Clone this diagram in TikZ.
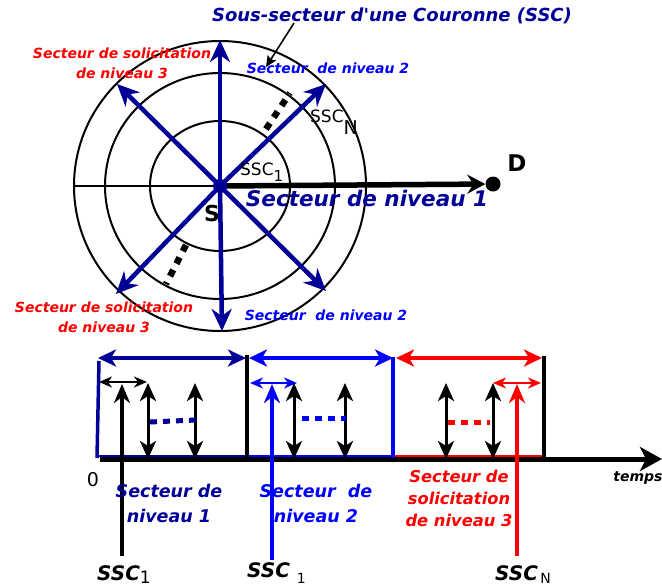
\documentclass[tikz,border=0pt]{standalone}
\usepackage{fontspec}
\setmainfont{DejaVu Sans}[Ligatures=TeXOff]
\usetikzlibrary{arrows.meta}
\definecolor{navy}{RGB}{0,0,150}
\definecolor{bl}{RGB}{0,0,255}
\definecolor{rd}{RGB}{255,0,0}
\tikzset{
  rad/.style={navy,line width=4.5pt,-{Stealth[length=22pt,width=20pt,inset=7pt]}},
  bigdbl/.style={line width=3.5pt,{Stealth[length=18pt,width=17pt,inset=5pt]}-{Stealth[length=18pt,width=17pt,inset=5pt]}},
  smalldbl/.style={line width=2.4pt,{Stealth[length=13pt,width=11pt,inset=4pt]}-{Stealth[length=13pt,width=11pt,inset=4pt]}},
  vdbl/.style={black,line width=3pt,{Stealth[length=18pt,width=16pt,inset=5pt]}-{Stealth[length=18pt,width=16pt,inset=5pt]}},
  uparr/.style={line width=3.5pt,-{Stealth[length=19pt,width=16pt,inset=6pt]}},
  dots/.style={line width=5pt,dash pattern=on 7pt off 6pt},
  pdots/.style={line width=6.5pt,dash pattern=on 7pt off 7pt},
  lbl/.style 2 args={font=\bfseries\itshape\fontsize{#1}{#2}\selectfont,align=center,inner sep=0pt},
  ring/.style={line width=2pt}
}
\begin{document}
\begin{tikzpicture}[x=1pt,y=-1pt]
\useasboundingbox (0,0) rectangle (662,587);
% ---------- polar part ----------
\coordinate (C) at (220,186);
\draw[ring] (C) ellipse [x radius=70pt,y radius=65pt];
\draw[ring] (C) ellipse [x radius=115pt,y radius=113pt];
\draw[ring] (C) ellipse [x radius=146pt,y radius=145pt];
\coordinate (L) at (74,186);
\draw[line width=2pt] (L) -- (C);
\node[circle,fill=black,inner sep=0pt,minimum size=15pt] (D) at (493,184) {};
\draw[line width=5.5pt,-{Stealth[length=18pt,width=19pt,inset=6pt]}] (C) -- (D);
\coordinate (a1) at (220,40);
\coordinate (a2) at (117,84);
\coordinate (a3) at (326,84);
\coordinate (a4) at (116,294);
\coordinate (a5) at (222,331);
\coordinate (a6) at (326,291);
\foreach \t in {a1,a2,a3,a4,a5,a6} \draw[rad] (C) -- (\t);
\node[circle,fill=navy,inner sep=0pt,minimum size=14pt] (S) at (C) {};
\coordinate (d1a) at (266,129); \coordinate (d1b) at (290,93);
\coordinate (d2a) at (186,245); \coordinate (d2b) at (166,284);
\draw[pdots] (d1a) -- (d1b);
\draw[pdots] (d2a) -- (d2b);
\node[font=\bfseries\fontsize{23}{26}\selectfont] (Dl) at (517,163) {D};
\node[font=\bfseries\fontsize{22}{26}\selectfont] (Sl) at (212,213) {S};
\node[font=\fontsize{17}{20}\selectfont,inner sep=0pt,anchor=base west] (ssc1) at (240,175) {SSC\raisebox{-6pt}{\fontsize{15}{15}\selectfont 1}};
\node[font=\fontsize{17}{20}\selectfont,inner sep=0pt,anchor=base west] (sscN) at (310,122) {SSC\raisebox{-12pt}{\fontsize{19}{19}\selectfont N}};
\node[lbl={18}{22},navy] (ssc) at (392,16) {Sous-secteur d'une Couronne (SSC)};
\coordinate (sscA) at (294,23);
\coordinate (sscB) at (266,67);
\draw[line width=1.6pt,-{Stealth[length=11pt,width=10pt,inset=2pt]}] (sscA) -- (sscB);
\node[lbl={14}{20},rd] (n3a) at (122,63) {Secteur de solicitation\\de niveau 3};
\node[lbl={14}{16},bl] (n2a) at (328,68) {Secteur\ \ de niveau 2};
\node[lbl={21.5}{24},navy] (n1) at (367,198) {Secteur de niveau 1};
\node[lbl={14}{20},rd] (n3b) at (104,317) {Secteur de solicitation\\de niveau 3};
\node[lbl={14}{16},bl] (n2b) at (326,315) {Secteur\ \ de niveau 2};
% ---------- time line ----------
\coordinate (t0) at (100,459);
\coordinate (tend) at (662,459);
\draw[navy,line width=2.5pt] (98,456) -- (247,456);
\draw[bl,line width=2.5pt] (248,456) -- (393,456);
\draw[rd,line width=2.5pt] (395,456) -- (544,456);
\draw[line width=5pt,-{Stealth[length=22pt,width=24pt,inset=6pt]}] (t0) -- (tend);
\node[lbl={14}{16}] (temps) at (638,478) {temps};
\node[font=\fontsize{19}{22}\selectfont] (zero) at (93,480) {0};
% bars
\draw[navy,line width=3.5pt] (99,361) -- (97,458);
\draw[line width=3.5pt] (247,355) -- (247,461);
\draw[bl,line width=3.5pt] (393,357) -- (393,458);
\draw[line width=3.5pt] (544,356) -- (544,461);
% big double arrows
\coordinate (b1) at (98,358); \coordinate (b2) at (246,358);
\coordinate (b3) at (249,358); \coordinate (b4) at (393,358);
\coordinate (b5) at (396,358); \coordinate (b6) at (542,358);
\draw[bigdbl,navy] (b1) -- (b2);
\draw[bigdbl,bl] (b3) -- (b4);
\draw[bigdbl,rd] (b5) -- (b6);
% small double arrows
\coordinate (s1) at (99,382); \coordinate (s2) at (147,382);
\coordinate (s3) at (250,383); \coordinate (s4) at (297,383);
\coordinate (s5) at (493,383); \coordinate (s6) at (541,383);
\draw[smalldbl,black] (s1) -- (s2);
\draw[smalldbl,bl] (s3) -- (s4);
\draw[smalldbl,rd] (s5) -- (s6);
% vertical double arrows
\foreach \x in {148,195,294,345,446,493} \draw[vdbl] (\x,383) -- (\x,459);
% dotted lines
\draw[dots,navy] (150,422) -- (196,420);
\draw[dots,bl] (302,418) -- (346,418);
\draw[dots,rd] (448,422) -- (490,422);
% SSC arrows
\coordinate (u1a) at (122,556); \coordinate (u1b) at (122,384);
\coordinate (u2a) at (272,560); \coordinate (u2b) at (272,384);
\coordinate (u3a) at (517,556); \coordinate (u3b) at (517,384);
\draw[uparr,black] (u1a) -- (u1b);
\draw[uparr,bl] (u2a) -- (u2b);
\draw[uparr,rd] (u3a) -- (u3b);
% labels below
\node[lbl={17.5}{25},navy] (t1) at (169,503) {Secteur de\\niveau 1};
\node[lbl={17.5}{25},bl] (t2) at (316,503) {Secteur\ \ de\\niveau 2};
\node[lbl={16.3}{22},rd] (t3) at (459,498) {Secteur de\\solicitation\\de niveau 3};
\node[lbl={20}{22},anchor=base west] (k1) at (97,580) {SSC\textmd{\upshape\fontsize{17}{17}\selectfont\raisebox{-3pt}{1}}};
\node[lbl={20}{22},anchor=base west] (k2) at (247,577) {SSC\textmd{\upshape\fontsize{14}{14}\selectfont\raisebox{-6pt}{\ \,1}}};
\node[lbl={20}{22},anchor=base west] (k3) at (495,580) {SSC\textmd{\upshape\fontsize{14}{14}\selectfont\raisebox{-3pt}{\,N}}};
\end{tikzpicture}
\end{document}
